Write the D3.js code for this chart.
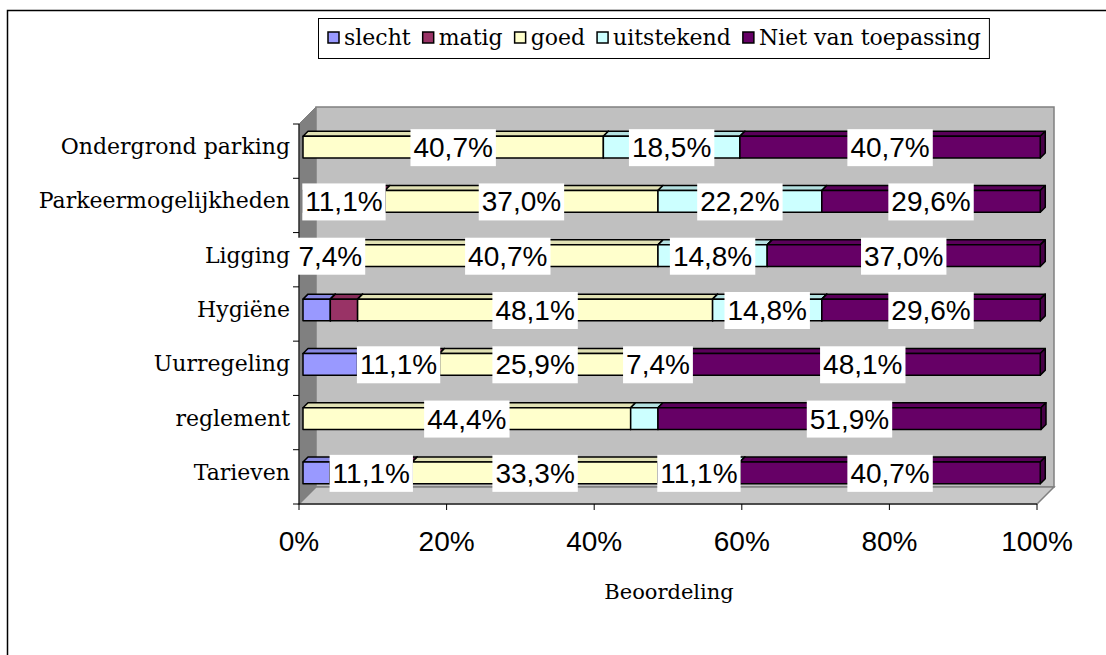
<!DOCTYPE html>
<html>
<head>
<meta charset="utf-8">
<script src="https://cdn.jsdelivr.net/npm/d3@7"></script>
<style>
  body { margin: 0; background: #fff; }
  svg { display: block; }
</style>
</head>
<body>
<svg id="main-svg" width="1106" height="655"></svg>
<script>
// data, top row first
var categories = ["Ondergrond parking", "Parkeermogelijkheden", "Ligging", "Hygiëne", "Uurregeling", "reglement", "Tarieven"];
var seriesNames = ["slecht", "matig", "goed", "uitstekend", "Niet van toepassing"];
var slecht     = [0,    0,    0,    3.7,  7.4,  0,    3.7];
var matig      = [0,    11.1, 7.4,  3.7,  11.1, 0,    11.1];
var goed       = [40.7, 37.0, 40.7, 48.1, 25.9, 44.4, 33.3];
var uitstekend = [18.5, 22.2, 14.8, 14.8, 7.4,  3.7,  11.1];
var nvt        = [40.7, 29.6, 37.0, 29.6, 48.1, 51.9, 40.7];
var xTicks = [0, 20, 40, 60, 80, 100];
var colors = ["#9999FF", "#993366", "#FFFFCC", "#CCFFFF", "#660066"];
var hiddenLabels = [["Uurregeling", "slecht"]]; // no label in the original

var svg = d3.select("#main-svg");
var serif = "'DejaVu Serif', serif";
var sans = "'Liberation Sans', Arial, sans-serif";

// outer chart frame
svg.append("rect")
  .attr("x", 7.5).attr("y", 10.5)
  .attr("width", 1300).attr("height", 900)
  .attr("fill", "#fff").attr("stroke", "#000").attr("stroke-width", 1.5);

var rows = categories.map(function(c, i) {
  return {cat: c, "slecht": slecht[i], "matig": matig[i], "goed": goed[i], "uitstekend": uitstekend[i], "Niet van toepassing": nvt[i]};
});
var stacked = d3.stack().keys(seriesNames)(rows);

var x = d3.scaleLinear().domain([0, 100]).range([299, 1037]);
var y = d3.scaleBand().domain(categories).range([124, 504]).paddingInner(0.6).paddingOuter(0.3);
var color = d3.scaleOrdinal().domain(seriesNames).range(colors);

var depth = 17;   // wall depth
var bo = 4;       // bar front offset into depth
var bd = 5;       // bar depth

var x0 = x.range()[0], x1 = x.range()[1], yTop = y.range()[0], yBot = y.range()[1];

// walls
var walls = svg.append("g");
walls.append("polygon")
  .attr("points", [[x0, yTop], [x0 + depth, yTop - depth], [x0 + depth, yBot - depth], [x0, yBot]].join(" "))
  .attr("fill", "#808080").attr("stroke", "#808080");
walls.append("rect")
  .attr("x", x0 + depth).attr("y", yTop - depth)
  .attr("width", x1 - x0).attr("height", yBot - yTop)
  .attr("fill", "#C0C0C0").attr("stroke", "#808080").attr("stroke-width", 1.5);
walls.append("polygon")
  .attr("points", [[x0, yBot], [x0 + depth, yBot - depth], [x1 + depth, yBot - depth], [x1, yBot]].join(" "))
  .attr("fill", "#C8C8C8").attr("stroke", "#808080").attr("stroke-width", 1.5);

// axes lines
var axisG = svg.append("g").attr("stroke", "#000").attr("stroke-width", 1);
axisG.append("line").attr("x1", x0).attr("x2", x0).attr("y1", yTop).attr("y2", yBot);
axisG.append("line").attr("x1", x0).attr("x2", x1).attr("y1", yBot).attr("y2", yBot);
var bandEdges = categories.map(function(c) { return y(c) - y.step() * y.paddingInner() / 2; }).concat([yBot]);
axisG.selectAll(".ytick").data(bandEdges).enter().append("line")
  .attr("x1", x0 - 6).attr("x2", x0)
  .attr("y1", function(d) { return d; }).attr("y2", function(d) { return d; });
axisG.selectAll(".xtick").data(xTicks).enter().append("line")
  .attr("x1", function(d) { return x(d); }).attr("x2", function(d) { return x(d); })
  .attr("y1", yBot).attr("y2", yBot + 6);

svg.append("g").selectAll("text").data(xTicks).enter().append("text")
  .attr("x", function(d) { return x(d); })
  .attr("y", yBot + 47)
  .attr("text-anchor", "middle")
  .style("font-family", sans).style("font-size", "28px").style("fill", "#000")
  .text(function(d) { return d + "%"; });

svg.append("g").selectAll("text").data(categories).enter().append("text")
  .attr("x", 290)
  .attr("y", function(d) { return y(d) + y.bandwidth() / 2 - bo + 7; })
  .attr("text-anchor", "end")
  .style("font-family", serif).style("font-size", "22px").style("fill", "#000")
  .text(function(d) { return d; });

// bars
var bars = svg.append("g");
var h = y.bandwidth();
stacked.forEach(function(layer) {
  var c = d3.color(color(layer.key));
  layer.forEach(function(d) {
    if (d[1] - d[0] <= 0) return;
    var xa = x(d[0]) + bo, xb = x(d[1]) + bo, yt = y(d.data.cat) - bo;
    var g = bars.append("g").attr("stroke", "#000").attr("stroke-width", 1.5).attr("stroke-linejoin", "round");
    g.append("polygon")
      .attr("points", [[xa, yt], [xa + bd, yt - bd], [xb + bd, yt - bd], [xb, yt]].join(" "))
      .attr("fill", c.darker(0.35));
    g.append("polygon")
      .attr("points", [[xb, yt], [xb + bd, yt - bd], [xb + bd, yt - bd + h], [xb, yt + h]].join(" "))
      .attr("fill", c.darker(1));
    g.append("rect")
      .attr("x", xa).attr("y", yt).attr("width", xb - xa).attr("height", h)
      .attr("fill", c);
  });
});

// data labels
function isHidden(cat, key) {
  return hiddenLabels.some(function(p) { return p[0] === cat && p[1] === key; });
}
var labels = svg.append("g");
stacked.forEach(function(layer) {
  layer.forEach(function(d) {
    var v = d[1] - d[0];
    if (v < 5 || isHidden(d.data.cat, layer.key)) return;
    var cx = x((d[0] + d[1]) / 2) + bo;
    var cy = y(d.data.cat) - bo + h / 2;
    var lg = labels.append("g");
    var bg = lg.append("rect").attr("fill", "#fff");
    var t = lg.append("text")
      .attr("x", cx).attr("y", cy + 10)
      .attr("text-anchor", "middle")
      .style("font-family", sans).style("font-size", "28px").style("fill", "#000")
      .text(d3.format(".1f")(v).replace(".", ",") + "%");
    var bb = t.node().getBBox();
    bg.attr("x", bb.x - 3).attr("y", cy - 18).attr("width", bb.width + 6).attr("height", 37);
  });
});

// axis title
svg.append("text")
  .attr("x", 669).attr("y", 599)
  .attr("text-anchor", "middle")
  .style("font-family", serif).style("font-size", "21px").style("fill", "#000")
  .text("Beoordeling");

// legend
var legend = svg.append("g");
var legBox = legend.append("rect")
  .attr("x", 318.5).attr("y", 18.5).attr("height", 40)
  .attr("fill", "#fff").attr("stroke", "#000").attr("stroke-width", 1);
var lx = 328;
seriesNames.forEach(function(name) {
  legend.append("rect")
    .attr("x", lx).attr("y", 32).attr("width", 11).attr("height", 11)
    .attr("fill", color(name)).attr("stroke", "#000").attr("stroke-width", 1.5);
  var t = legend.append("text")
    .attr("x", lx + 16).attr("y", 45)
    .style("font-family", serif).style("font-size", "22px").style("fill", "#000")
    .text(name);
  lx += 16 + t.node().getComputedTextLength() + 12;
});
legBox.attr("width", lx - 318 - 4);
</script>
</body>
</html>
